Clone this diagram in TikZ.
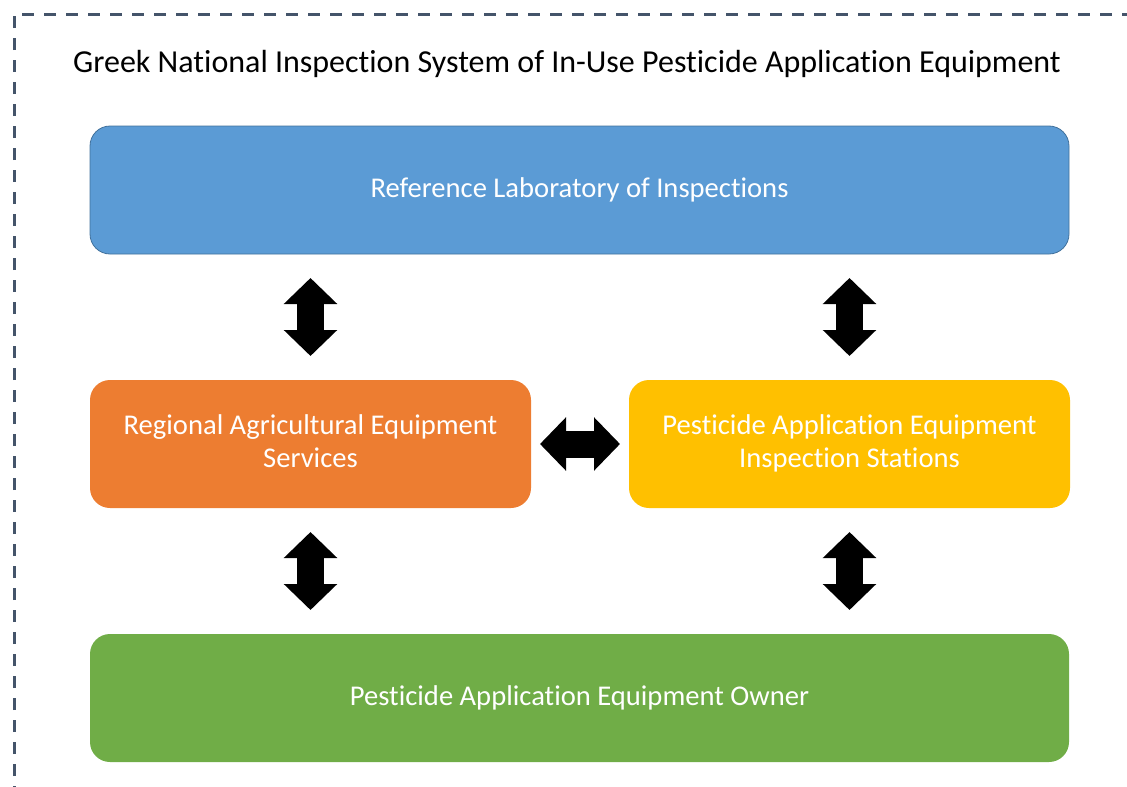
\documentclass[tikz,border=0pt]{standalone}
\usepackage{fontspec}
\setmainfont[Ligatures=NoCommon]{Carlito}
\usetikzlibrary{positioning,arrows.meta,calc}

\definecolor{refblue}{HTML}{5B9BD5}
\definecolor{refedge}{HTML}{41719C}
\definecolor{regorange}{HTML}{ED7D31}
\definecolor{staamber}{HTML}{FFC000}
\definecolor{owngreen}{HTML}{70AD47}
\definecolor{frameslate}{HTML}{44546A}

\begin{document}
\begin{tikzpicture}[x=1pt,y=-1pt,
      unit/.style = {rectangle, rounded corners=20pt, outer sep=0pt,
         minimum height=128pt, align=center, text=white,
         font=\fontsize{28.6}{33}\selectfont},
      wide/.style = {unit, minimum width=979pt},
      half/.style = {unit, minimum width=441pt},
      link/.style = {line width=27pt,
         {Triangle[length=26pt,width=52pt]}-{Triangle[length=26pt,width=52pt]}}
]
      \useasboundingbox (0,0) rectangle (1127,787);

      % outer frame
      \draw[frameslate, line width=3pt, dash pattern=on 12pt off 10pt]
      (14,820) -- (14,14) -- (1160,14);

      \node (title) at (567,64) {\fontsize{32}{38}\selectfont Greek National
         Inspection System of In-Use Pesticide Application Equipment};

      % boxes
      \node[wide, fill=refblue, draw=refedge, line width=0.8pt]
         (ref) at (579.5,190) {Reference Laboratory of Inspections};
      \node[half, fill=regorange, below right=126pt and 0pt of ref.south west]
         (reg) {Regional Agricultural Equipment\strut\\Services\strut};
      \node[half, fill=staamber, right=98pt of reg]
         (sta) {Pesticide Application Equipment\strut\\Inspection Stations\strut};
      \node[wide, fill=owngreen, below right=126pt and 0pt of reg.south west]
         (own) {Pesticide Application Equipment Owner};

      % exchanges
      \draw[link, shorten <=24pt, shorten >=24pt] (reg.north |- ref.south) -- (reg.north);
      \draw[link, shorten <=24pt, shorten >=24pt] (sta.north |- ref.south) -- (sta.north);
      \draw[link, shorten <=24pt, shorten >=24pt] (reg.south) -- (reg.south |- own.north);
      \draw[link, shorten <=24pt, shorten >=24pt] (sta.south) -- (sta.south |- own.north);
      \draw[link, shorten <=9pt, shorten >=9pt] (reg.east) -- (sta.west);
\end{tikzpicture}
\end{document}
